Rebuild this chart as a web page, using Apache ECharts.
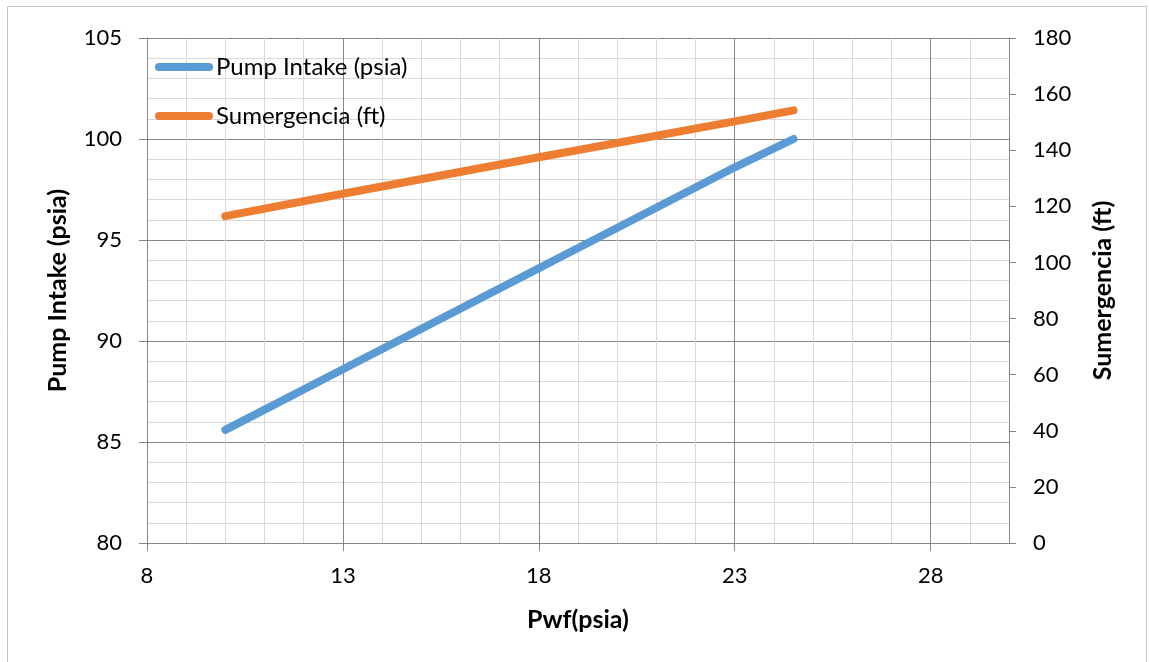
<!DOCTYPE html>
<html>
<head>
<meta charset="utf-8">
<script src="https://cdn.jsdelivr.net/npm/echarts@6/dist/echarts.min.js"></script>
<style>
html,body{margin:0;padding:0;background:#fff;}
#chart{width:1149px;height:662px;}
</style>
</head>
<body>
<div id="chart"></div>
<script>
// Data
const pwf = [10, 13, 18, 23, 24.5];
const pumpIntake = [85.6, 88.6, 93.6, 98.6, 100.0];
const sumergencia = [116.5, 124.5, 137.5, 150.3, 154.2];
const xTickValues = [8, 13, 18, 23, 28];
const seriesNames = ['Pump Intake (psia)', 'Sumergencia (ft)'];

const FONT = 'Lato';
const MAJOR = '#868686';
const MINOR = '#d9d9d9';

const chart = echarts.init(document.getElementById('chart'), null, {renderer: 'canvas'});

const pairs = (xs, ys) => xs.map((x, i) => [x, ys[i]]);

const option = {
  animation: false,
  backgroundColor: '#fff',
  textStyle: {fontFamily: FONT},
  graphic: [{
    type: 'rect',
    shape: {x: 7.5, y: 6.5, width: 1139, height: 700},
    style: {fill: 'none', stroke: '#c6c6c6', lineWidth: 1},
    silent: true, z: -10
  }],
  grid: {left: 147, right: 140, top: 38, bottom: 119, containLabel: false},
  legend: {
    orient: 'vertical',
    left: 150,
    top: 50,
    itemWidth: 58,
    itemHeight: 8,
    itemGap: 25,
    icon: 'path://M4,0 H54 A4,4 0 0 1 54,8 H4 A4,4 0 0 1 4,0 Z',
    textStyle: {fontFamily: FONT, fontSize: 24, lineHeight: 24, color: '#000', padding: [0, 0, 0, -2]},
    data: seriesNames
  },
  xAxis: [{
    type: 'value', position: 'bottom',
    min: 8, max: 30, interval: 1,
    axisLine: {show: true, lineStyle: {color: MAJOR, width: 1}},
    axisTick: {show: false},
    axisLabel: {show: false},
    splitLine: {show: true, lineStyle: {color: [MAJOR, MINOR, MINOR, MINOR, MINOR], width: 1}},
    name: 'Pwf(psia)', nameLocation: 'middle', nameGap: 64,
    nameTextStyle: {fontFamily: FONT, fontSize: 25, fontWeight: 'bold', color: '#000', verticalAlign: 'top'}
  }, {
    type: 'value', position: 'bottom',
    min: 8, max: 30, interval: 5,
    axisLine: {show: false},
    axisTick: {show: true, length: 8, customValues: xTickValues, lineStyle: {color: MAJOR}},
    axisLabel: {show: true, customValues: xTickValues, margin: 22, fontFamily: FONT, fontSize: 22, color: '#000',
      formatter: v => (xTickValues.indexOf(v) >= 0 ? String(v) : '')},
    splitLine: {show: false}
  }],
  yAxis: [{
    type: 'value', position: 'left',
    min: 80, max: 105, interval: 5,
    axisLine: {show: true, lineStyle: {color: MAJOR, width: 1}},
    axisTick: {show: true, length: 8, lineStyle: {color: MAJOR}},
    axisLabel: {margin: 25, fontFamily: FONT, fontSize: 22, color: '#000'},
    splitLine: {show: true, lineStyle: {color: MAJOR, width: 1}},
    minorTick: {show: false, splitNumber: 5},
    minorSplitLine: {show: true, lineStyle: {color: MINOR, width: 1}},
    name: 'Pump Intake (psia)', nameLocation: 'middle', nameGap: 77,
    nameTextStyle: {fontFamily: FONT, fontSize: 25, fontWeight: 'bold', color: '#000'}
  }, {
    type: 'value', position: 'right',
    min: 0, max: 180, interval: 20,
    axisLine: {show: true, lineStyle: {color: MAJOR, width: 1}},
    axisTick: {show: true, length: 7, lineStyle: {color: MAJOR}},
    axisLabel: {margin: 24, fontFamily: FONT, fontSize: 22, color: '#000'},
    splitLine: {show: false},
    name: 'Sumergencia (ft)', nameLocation: 'middle', nameGap: 81, nameRotate: 90,
    nameTextStyle: {fontFamily: FONT, fontSize: 25, fontWeight: 'bold', color: '#000'}
  }],
  series: [{
    name: seriesNames[0], type: 'line',
    xAxisIndex: 0, yAxisIndex: 0,
    data: pairs(pwf, pumpIntake),
    showSymbol: false, symbol: 'none',
    itemStyle: {color: '#5B9BD5'},
    lineStyle: {color: '#5B9BD5', width: 8, cap: 'round', join: 'round'},
    z: 3
  }, {
    name: seriesNames[1], type: 'line',
    xAxisIndex: 0, yAxisIndex: 1,
    data: pairs(pwf, sumergencia),
    showSymbol: false, symbol: 'none',
    itemStyle: {color: '#ED7D31'},
    lineStyle: {color: '#ED7D31', width: 8, cap: 'round', join: 'round'},
    z: 3
  }]
};

chart.setOption(option);
</script>
</body>
</html>
